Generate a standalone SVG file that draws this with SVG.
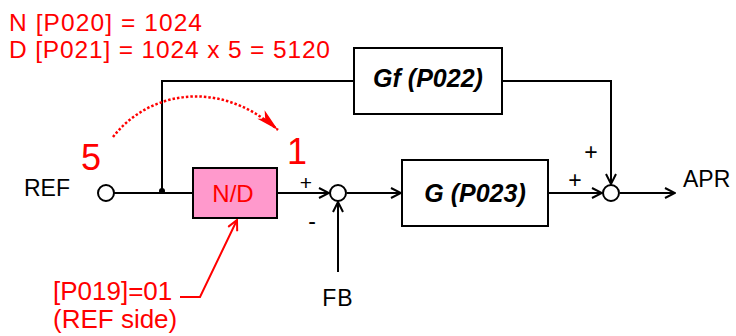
<svg xmlns="http://www.w3.org/2000/svg" width="736" height="336" viewBox="0 0 736 336">
<style>
.ln{stroke:#000;stroke-width:2;fill:none}
.box{stroke:#000;stroke-width:2;fill:#fff}
.sum{stroke:#000;stroke-width:2;fill:#fff}
.t{font-family:"Liberation Sans",Arial,sans-serif;font-size:23px;fill:#000}
.bi{font-family:"Liberation Sans",Arial,sans-serif;font-size:25px;font-weight:bold;font-style:italic;fill:#000}
.r{font-family:"Liberation Sans",Arial,sans-serif;font-size:26px;fill:#ff0000}
.big{font-family:"Liberation Sans",Arial,sans-serif;font-size:36px;fill:#ff0000}
.sg{font-family:"Liberation Sans",Arial,sans-serif;font-size:23px;fill:#000}
</style>
<defs>
<marker id="oa" viewBox="0 0 12 12" refX="11" refY="6" markerWidth="12" markerHeight="12" markerUnits="userSpaceOnUse" orient="auto">
<path d="M1 1 L11 6 L1 11" fill="none" stroke="#000" stroke-width="2"/>
</marker>
<marker id="ra" viewBox="0 0 12 12" refX="11" refY="6" markerWidth="12" markerHeight="12" markerUnits="userSpaceOnUse" orient="auto">
<path d="M1 1 L11 6 L1 11" fill="none" stroke="#ff0000" stroke-width="2"/>
</marker>
<marker id="rf" viewBox="0 0 24 12" refX="23" refY="6" markerWidth="24" markerHeight="12" markerUnits="userSpaceOnUse" orient="auto">
<path d="M0 0 L23 6 L0 11 L6 6 Z" fill="#ff0000"/>
</marker>
</defs>

<g id="annotation-top">
<text class="r" x="9" y="31" textLength="193" lengthAdjust="spacing" style="font-size:24.5px">N [P020] = 1024</text>
<text class="r" x="9" y="58" textLength="321" lengthAdjust="spacing" style="font-size:24.5px">D [P021] = 1024 x 5 = 5120</text>
</g>

<g id="connectors">
<line class="ln" x1="114" y1="193" x2="193" y2="193"/>
<polyline class="ln" points="162,193 162,81 354,81"/>
<polyline class="ln" points="502,81 611,81 611,184" marker-end="url(#oa)"/>
<line class="ln" x1="277" y1="193" x2="329" y2="193" marker-end="url(#oa)"/>
<line class="ln" x1="338" y1="272" x2="338" y2="202" marker-end="url(#oa)"/>
<line class="ln" x1="347" y1="193" x2="401" y2="193" marker-end="url(#oa)"/>
<line class="ln" x1="548" y1="193" x2="602" y2="193" marker-end="url(#oa)"/>
<line class="ln" x1="620" y1="193" x2="675" y2="193" marker-end="url(#oa)"/>
<circle cx="162" cy="191" r="3" fill="#000"/>
</g>

<g id="ref">
<circle class="sum" cx="106" cy="193" r="8"/>
<text class="t" x="24" y="196">REF</text>
<text class="big" x="81" y="170">5</text>
</g>

<g id="nd">
<rect x="193" y="168" width="84" height="50" fill="#ff99cc" stroke="#000" stroke-width="2"/>
<text class="r" x="233" y="202" text-anchor="middle" style="font-size:24px">N/D</text>
<text class="big" x="287" y="164">1</text>
</g>

<g id="sum1">
<circle class="sum" cx="338" cy="193" r="8"/>
<text class="sg" x="306" y="190" text-anchor="middle" style="font-size:21px">+</text>
<text class="sg" x="312" y="229" text-anchor="middle">-</text>
</g>

<g id="fb">
<text class="t" x="338" y="306" text-anchor="middle" letter-spacing="1">FB</text>
</g>

<g id="gf">
<rect class="box" x="354" y="48" width="148" height="66"/>
<text class="bi" x="428" y="87" text-anchor="middle">Gf (P022)</text>
</g>

<g id="g">
<rect class="box" x="402" y="160" width="146" height="66"/>
<text class="bi" x="475" y="202" text-anchor="middle">G (P023)</text>
</g>

<g id="sum2">
<circle class="sum" cx="611" cy="193" r="8"/>
<text class="sg" x="591" y="160" text-anchor="middle">+</text>
<text class="sg" x="575" y="188" text-anchor="middle">+</text>
</g>

<g id="apr">
<text class="t" x="683" y="187">APR</text>
</g>

<g id="annotation-ratio">
<path d="M113 137 C 145 95, 215 75, 278 130" fill="none" stroke="#ff0000" stroke-width="2.5" stroke-dasharray="2.5,2" marker-end="url(#rf)"/>
</g>

<g id="annotation-p019">
<polyline points="180,297 200,297 237,220" fill="none" stroke="#ff0000" stroke-width="2" marker-end="url(#ra)"/>
<text class="r" x="53" y="300">[P019]=01</text>
<text class="r" x="53" y="328">(REF side)</text>
</g>
</svg>
